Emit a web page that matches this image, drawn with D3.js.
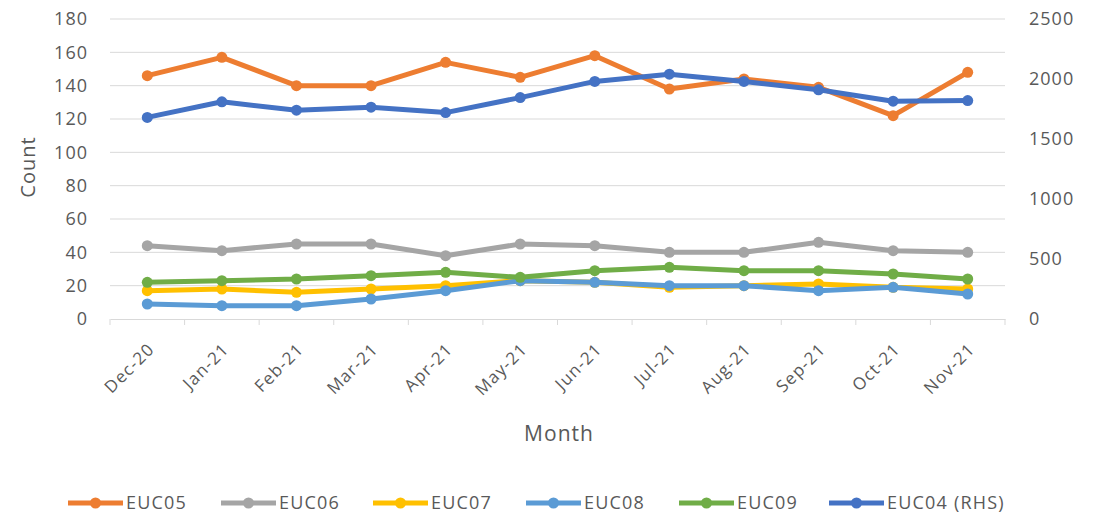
<!DOCTYPE html>
<html><head><meta charset="utf-8">
<script src="https://cdn.jsdelivr.net/npm/d3@7"></script>
<style>body{margin:0;background:#fff}svg{display:block}text{font-family:"Open Sans","Noto Sans",sans-serif;fill:#595959}</style>
</head><body><svg id="c" width="1104" height="516"></svg>
<script>
const months = ["Dec-20","Jan-21","Feb-21","Mar-21","Apr-21","May-21","Jun-21","Jul-21","Aug-21","Sep-21","Oct-21","Nov-21"];
const euc05 = [146,157,140,140,154,145,158,138,144,139,122,148];
const euc06 = [44,41,45,45,38,45,44,40,40,46,41,40];
const euc07 = [17,18,16,18,20,23,22,19,20,21,19,18];
const euc08 = [9,8,8,12,17,23,22,20,20,17,19,15];
const euc09 = [22,23,24,26,28,25,29,31,29,29,27,24];
const euc04 = [1680,1810,1740,1765,1720,1845,1980,2040,1980,1910,1815,1820];
const leftTicks = [0,20,40,60,80,100,120,140,160,180];
const rightTicks = [0,500,1000,1500,2000,2500];

const series = [
  {name:"EUC05", values:euc05, color:"#ED7D31", axis:"L"},
  {name:"EUC06", values:euc06, color:"#A5A5A5", axis:"L"},
  {name:"EUC07", values:euc07, color:"#FFC000", axis:"L"},
  {name:"EUC08", values:euc08, color:"#5B9BD5", axis:"L"},
  {name:"EUC09", values:euc09, color:"#70AD47", axis:"L"},
  {name:"EUC04 (RHS)", values:euc04, color:"#4472C4", axis:"R"}
];

const svg = d3.select("#c");
const m = {l:110, r:1005, t:19, b:319};
const x = d3.scaleBand().domain(months).range([m.l, m.r]);
const yL = d3.scaleLinear().domain([0,180]).range([m.b, m.t]);
const yR = d3.scaleLinear().domain([0,2500]).range([m.b, m.t]);

// gridlines
svg.append("g").selectAll("line").data(leftTicks.filter(d=>d>0)).join("line")
  .attr("x1", m.l).attr("x2", m.r).attr("y1", d=>yL(d)).attr("y2", d=>yL(d))
  .attr("stroke","#D9D9D9").attr("stroke-width",1);

// left axis labels
const gl = svg.append("g").attr("transform",`translate(${m.l},0)`)
  .call(d3.axisLeft(yL).tickValues(leftTicks).tickSize(0).tickPadding(22));
gl.select(".domain").remove();
gl.selectAll("text").style("font-size","18px").style("letter-spacing","1px").attr("fill","#595959");

// right axis labels
const gr = svg.append("g").attr("transform",`translate(${m.r},0)`)
  .call(d3.axisRight(yR).tickValues(rightTicks).tickFormat(d3.format("d")).tickSize(0).tickPadding(24));
gr.select(".domain").remove();
gr.selectAll("text").style("font-size","18px").style("letter-spacing","1px").attr("fill","#595959");

// x axis
const gx = svg.append("g").attr("transform",`translate(0,${m.b})`)
  .call(d3.axisBottom(x).tickSize(0).tickPadding(0));
gx.select(".domain").attr("stroke","#D9D9D9");
gx.selectAll(".tick text").style("font-size","17px").style("letter-spacing","1.2px").attr("fill","#595959")
  .attr("text-anchor","end").attr("x",0).attr("y",0).attr("dy","0.35em")
  .attr("transform","translate(4,27) rotate(-45)");
// category boundary ticks
const bounds = months.map(d=>x(d)).concat([m.r]);
svg.append("g").selectAll("line").data(bounds).join("line")
  .attr("x1",d=>d).attr("x2",d=>d).attr("y1",m.b).attr("y2",m.b+6)
  .attr("stroke","#D9D9D9");

// titles
svg.append("text").attr("transform",`translate(35,${(m.t+m.b)/2 - 2}) rotate(-90)`)
  .attr("text-anchor","middle").style("font-size","20px").style("letter-spacing","1px").text("Count");
svg.append("text").attr("x",559).attr("y",441)
  .attr("text-anchor","middle").style("font-size","21px").style("letter-spacing","1px").text("Month");

// lines
const cx = d=>x(d)+x.bandwidth()/2;
series.forEach(s=>{
  const ys = s.axis==="L"?yL:yR;
  const g = svg.append("g");
  g.append("path").datum(s.values)
    .attr("d", d3.line().x((v,i)=>cx(months[i])).y(v=>ys(v)))
    .attr("fill","none").attr("stroke",s.color).attr("stroke-width",5)
    .attr("stroke-linejoin","round").attr("stroke-linecap","round");
  g.selectAll("circle").data(s.values).join("circle")
    .attr("cx",(v,i)=>cx(months[i])).attr("cy",v=>ys(v)).attr("r",5.5)
    .attr("fill",s.color);
});

// legend
const legX = [68,221,373,526,679,829];
const lg = svg.append("g");
series.forEach((s,i)=>{
  const g = lg.append("g").attr("transform",`translate(${legX[i]},503)`);
  g.append("line").attr("x1",0).attr("x2",55).attr("stroke",s.color).attr("stroke-width",5);
  g.append("circle").attr("cx",27.5).attr("r",5.5).attr("fill",s.color);
  g.append("text").attr("x",58).attr("dy","0.35em").style("font-size","18px").style("letter-spacing","1.2px").text(s.name);
});
</script></body></html>
